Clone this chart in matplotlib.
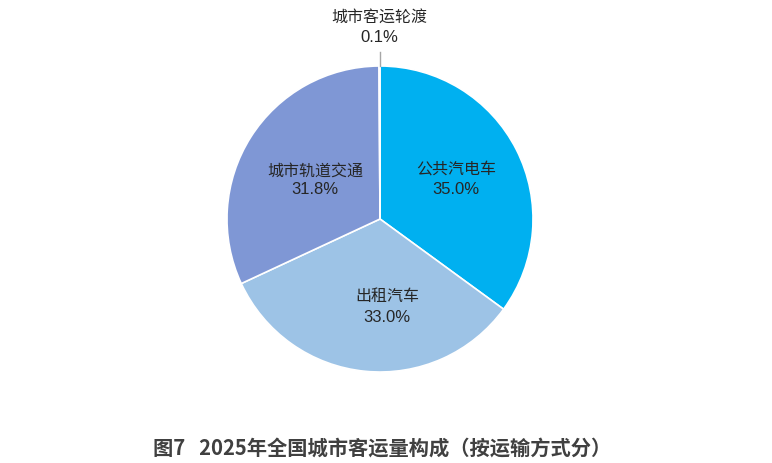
import matplotlib
matplotlib.use("Agg")
import matplotlib.pyplot as plt

plt.rcParams['font.family'] = ['Noto Sans CJK SC', 'DejaVu Sans']

categories = ['公共汽电车', '出租汽车', '城市轨道交通', '城市客运轮渡']
shares = [35.0, 33.0, 31.8, 0.1]
colors = ['#00B0F0', '#9DC3E6', '#7F97D5', '#A5A5A5']
title = '图7   2025年全国城市客运量构成（按运输方式分）'

W, H = 772, 464
fig = plt.figure(figsize=(W / 100, H / 100), dpi=100)
ax = fig.add_axes([0, 0, 1, 1])
ax.set_xlim(0, W)
ax.set_ylim(0, H)
ax.set_aspect('equal')
ax.axis('off')

cx, cy, R = 380, H - 220, 153
ax.pie(shares, colors=colors, startangle=90, counterclock=False,
       center=(cx, cy), radius=R,
       wedgeprops=dict(edgecolor='white', linewidth=1.2))
ax.set_xlim(0, W)
ax.set_ylim(0, H)

txt = '#262626'
# label positions (pixels from top): name centre, percent centre
label_pos = [(456, 170, 189), (387, 296, 317), (315, 171, 190), (379, 17, 38)]
for name, v, (x, y1, y2) in zip(categories, shares, label_pos):
    ax.text(x, H - y1, name, ha='center', va='center', fontsize=11.5, color=txt)
    ax.text(x, H - y2, f'{v:.1f}%', ha='center', va='center', fontsize=12,
            color=txt, family=['Liberation Sans', 'DejaVu Sans'])

# leader line for tiny slice
ax.plot([cx, cx], [cy + R, cy + R + 14], color='#A6A6A6', lw=1)

fig.text(382 / W, 1 - 448 / H, title, ha='center', va='center',
         fontsize=14.6, fontweight='bold', color='#404040')

fig.savefig('out.png', dpi=100)
